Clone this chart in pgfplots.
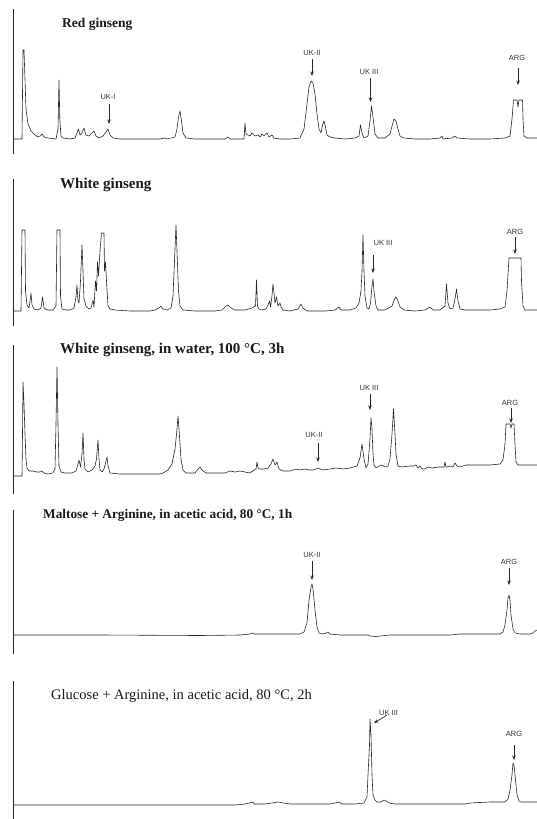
\documentclass[border=0pt]{standalone}
\usepackage{pgfplots}
\pgfplotsset{compat=1.18}
\usepackage{fontspec}
\setmainfont{Liberation Serif}
\newfontfamily\labfont{Liberation Sans}
\usetikzlibrary{arrows.meta}
\pgfplotsset{panel/.style={x=1pt,y=1pt,xmin=13,xmax=537,axis x line=none,axis y line=left,
  axis line style={-,line width=0.6pt,black!85},xtick=\empty,ytick=\empty,clip=false,anchor=south west},
  trace/.style={black!85,line width=0.6pt,line join=round,no marks}}
\tikzset{lab/.style={font=\labfont\fontsize{7.5}{8}\selectfont,text=black!80,inner sep=0pt},
  arr/.style={-{Stealth[length=4.5pt,width=3.5pt]},line width=0.7pt,black!85},
  ttl/.style={anchor=west,inner sep=0pt,text=black!90}}
\begin{document}
\begin{tikzpicture}
\useasboundingbox (0,0) rectangle (537pt,-819pt);
% ---------------- Panel 1: Red ginseng (baseline y=139)
\begin{axis}[panel,at={(13pt,-154pt)},ymin=-15,ymax=130.5]
\addplot[trace] coordinates {(13,0)(22,0)(23,89)(24,89)(25,60)(26,30)(28,15)(31,8)(35,4)(38,2)(40,3)(42,5)(44,2)(48,1)(56,0)(58,10)(59,59)(59.8,20)(61,3)(63,1)(70,0)(75,1)(77,6)(78.5,10)(80,4)(82,6)(84,11)(86,4)(89,3)(92,6)(94,8)(96,3)(99,1)(103,3)(106,7)(108,10)(110,4)(113,1)(120,0)(140,0)(160,0)(165,1)(167,0)(175,2)(177,10)(178.5,22)(180,28)(181.5,18)(183,6)(186,1)(195,0)(210,0)(225,0)(228,2)(230,0)(244,0)(245,16)(246,5)(250,3)(252,6)(255,3)(258,4)(260,2)(262,5)(264,3)(267,6)(269,2)(272,4)(274,1)(280,0)(290,0)(300,1)(304,10)(307,35)(309,52)(311,58)(313,56)(315,45)(317,25)(319,10)(321,6)(322.5,14)(324,18)(325.5,12)(327,4)(330,2)(335,1)(345,0)(355,1)(359,3)(360.5,14)(362,6)(364,1)(368,3)(370,18)(371.5,33)(373,22)(375,5)(378,1)(385,1)(390,5)(392,13)(394,20)(396,18)(398,10)(400,3)(404,1)(415,0)(430,0)(440,1)(442,3)(443,0)(452,1)(455,3)(457,1)(470,0)(490,0)(505,1)(510,3)(512,20)(513.5,39)(517,39)(518,32)(519,39)(522.5,39)(523,20)(524,3)(527,1)(537,1)};
\node[ttl,font=\fontsize{13.5}{15}\selectfont\bfseries] at (axis cs:62,115) {Red ginseng};
\node[lab] at (axis cs:108,42) {UK-I};
\draw[arr] (axis cs:109,35) -- (axis cs:109,15);
\node[lab] at (axis cs:312,86) {UK-II};
\draw[arr] (axis cs:312,80) -- (axis cs:312,63);
\node[lab] at (axis cs:369,67) {UK III};
\draw[arr] (axis cs:370.5,61) -- (axis cs:370.5,37);
\node[lab] at (axis cs:517,81) {ARG};
\draw[arr] (axis cs:518,71) -- (axis cs:518,54);
\end{axis}
% ---------------- Panel 2: White ginseng (baseline y=311)
\begin{axis}[panel,at={(13pt,-326pt)},ymin=-15,ymax=132.5]
\addplot[trace] coordinates {(13,0)(21,0)(22,81)(25,81)(25.5,20)(27,6)(29,3)(30,10)(31,18)(32,6)(34,2)(38,1)(41,3)(42.5,14)(44,3)(47,1)(53,1)(56,5)(57,81)(60,81)(60.5,15)(62,2)(66,1)(70,1)(74,3)(76,14)(77,26)(78,10)(79,8)(80.5,30)(82,66)(83,40)(84,12)(86,5)(89,2)(91,3)(93,11)(94,4)(95.5,30)(96.5,20)(97.5,49)(98.5,35)(100,60)(101.5,78)(104,78)(104.5,40)(105.5,49)(106.5,30)(108,5)(110,2)(115,1)(130,0)(150,0)(155,1)(159,3)(161,5)(163,2)(167,1)(171,3)(173,15)(174.5,50)(176,86)(177,60)(178.5,20)(180,5)(183,1)(195,0)(215,0)(222,1)(226,5)(228,6)(231,3)(235,1)(245,1)(252,3)(255.5,5)(256.5,31)(257.5,5)(259,2)(262,1)(266,2)(268,6)(269.5,10)(270.5,4)(272,15)(273,27)(274,18)(275,8)(276.5,14)(278,5)(280,8)(281,4)(283,1)(290,0)(298,2)(301,7)(303,3)(307,0)(325,0)(335,1)(339,4)(341,1)(350,1)(356,3)(359,8)(361,20)(362,40)(363,76)(364,40)(365,15)(367,3)(369,2)(370.5,8)(372,25)(373,32)(374,20)(376,5)(378,1)(385,1)(392,5)(394.5,12)(396,14)(398,10)(400,4)(404,1)(415,0)(425,1)(430,4)(433,1)(440,1)(445,5)(446.5,27)(448,8)(450,2)(453,3)(455,12)(456.5,22)(458,10)(460,2)(465,1)(475,1)(490,1)(500,2)(505,4)(507,20)(509,53)(521,53)(521.5,30)(523,5)(525,1)(530,1)(537,1)};
\node[ttl,font=\fontsize{15}{17}\selectfont\bfseries] at (axis cs:60,126) {White ginseng};
\node[lab] at (axis cs:383,68) {UK III};
\draw[arr] (axis cs:373,56) -- (axis cs:373,38);
\node[lab] at (axis cs:515,79) {ARG};
\draw[arr] (axis cs:515,74) -- (axis cs:515,57);
\end{axis}
% ---------------- Panel 3: White ginseng in water (baseline y=474)
\begin{axis}[panel,at={(13pt,-494pt)},ymin=-20,ymax=129]
\addplot[trace] coordinates {(13,-2)(22,-2)(22.5,40)(23,92)(24,70)(25,40)(26,15)(27,6)(29,3)(33,3)(37,2)(40,2)(42,3)(44,1)(48,0)(53,1)(55,5)(56,50)(57,107)(58,50)(59,8)(61,2)(65,1)(72,1)(76,3)(78,10)(79,14)(80.5,7)(82,20)(83,41)(84,15)(85,5)(88,2)(92,4)(95,8)(96.5,15)(98,34)(99,15)(100,4)(102,2)(104,5)(106,13)(107,17)(108,8)(110,1)(120,0)(140,0)(160,0)(163,1)(168,4)(172,10)(175,25)(177,45)(178,58)(179,45)(181,15)(183,4)(186,1)(195,1)(198,5)(200,7)(202,4)(206,1)(215,1)(225,1)(230,3)(235,2)(240,3)(245,2)(250,1)(254,4)(256,5)(257,12)(258,6)(260,5)(264,5)(268,6)(271,10)(273,15)(275,9)(277,12)(279,5)(283,3)(290,3)(296,5)(300,4)(305,5)(309,4)(313,4)(316,5)(318,6)(320,5)(323,4)(330,5)(336,6)(343,5)(350,6)(357,8)(360,16)(362,30)(364,15)(366,6)(368,10)(370,35)(371,56)(372,45)(373,20)(374,9)(376,6)(379,8)(382,9)(385,7)(388,8)(390,15)(392,40)(393.5,65)(395,40)(396,20)(398,8)(402,7)(410,8)(414,8)(416,9)(418,6)(420,8)(422,5)(425,5)(428,7)(432,6)(438,7)(444,7)(445,12)(446,7)(450,8)(453,7)(455,11)(457,8)(460,7)(466,9)(470,9)(480,9)(490,9)(500,10)(503,14)(505,30)(506,50)(510,50)(511,46)(512,50)(514,50)(515,30)(516,12)(518,9)(525,9)(537,9)};
\node[ttl,font=\fontsize{15}{17}\selectfont\bfseries] at (axis cs:60,124) {White ginseng, in water, 100 °C, 3h};
\node[lab] at (axis cs:314,39) {UK-II};
\draw[arr] (axis cs:318,31) -- (axis cs:318,12);
\node[lab] at (axis cs:369,86) {UK III};
\draw[arr] (axis cs:370,80) -- (axis cs:370,64);
\node[lab] at (axis cs:510,71) {ARG};
\draw[arr] (axis cs:511,66) -- (axis cs:511,51);
\end{axis}
% ---------------- Panel 4: Maltose + Arginine (baseline y=635)
\begin{axis}[panel,at={(13pt,-654pt)},ymin=-19,ymax=125]
\addplot[trace] coordinates {(13,0)(100,0)(200,-0.5)(240,0)(250,1)(252,2)(254,1)(270,1)(290,1)(300,1)(304,3)(307,12)(309,35)(311,48)(312,51)(313,46)(315,25)(317,8)(319,2)(322,1)(326,2)(328,3)(330,1)(340,0)(360,0)(368,0)(370,-1)(376,-1.5)(380,-1)(390,0)(420,0)(450,0)(460,1)(480,1)(500,1)(503,3)(505,10)(507,25)(508,37)(509,40)(510,35)(511,20)(513,6)(515,2)(520,1)(525,1)(530,1)(533,2)(535,4)(537,5)};
\node[ttl,font=\fontsize{13.3}{15}\selectfont\bfseries] at (axis cs:43,120) {Maltose + Arginine, in acetic acid, 80 °C, 1h};
\node[lab] at (axis cs:312,80) {UK-II};
\draw[arr] (axis cs:312,74) -- (axis cs:312,55);
\node[lab] at (axis cs:509,73) {ARG};
\draw[arr] (axis cs:509,67) -- (axis cs:509,50);
\end{axis}
% ---------------- Panel 5: Glucose + Arginine (baseline y=805)
\begin{axis}[panel,at={(13pt,-819pt)},ymin=-14,ymax=124]
\addplot[trace] coordinates {(13,0)(100,0)(200,0)(235,0)(245,1)(253,3)(254,1)(265,1)(272,2)(278,3)(283,2)(290,1)(310,1)(330,1)(335,2)(339,3)(342,1)(355,1)(364,2)(367,8)(368,30)(369,50)(369.5,60)(370,86)(371,70)(372,30)(373,10)(375,5)(377,3)(381,3)(384,5)(386,4)(389,2)(395,1)(420,1)(450,1)(465,1)(470,2)(490,3)(505,3)(508,6)(510,15)(512,30)(513,42)(514,40)(515,30)(517,10)(519,4)(521,3)(530,3)(537,3)};
\node[ttl,font=\fontsize{14.5}{16}\selectfont] at (axis cs:51,109) {Glucose + Arginine, in acetic acid, 80 °C, 2h};
\node[lab,anchor=west] at (axis cs:379,92) {UK III};
\draw[arr] (axis cs:387,90) -- (axis cs:374,82);
\node[lab] at (axis cs:514,71) {ARG};
\draw[arr] (axis cs:514,60) -- (axis cs:514,45);
\end{axis}
\end{tikzpicture}
\end{document}
